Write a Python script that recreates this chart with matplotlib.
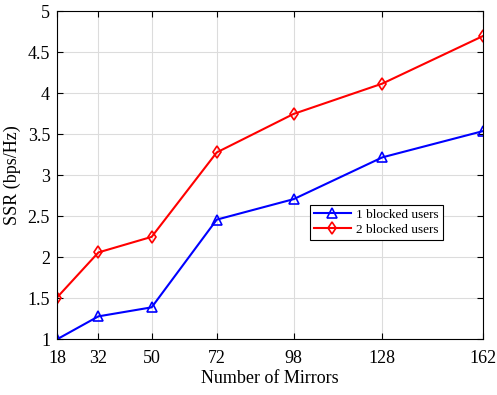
import matplotlib
matplotlib.use("Agg")
import matplotlib.pyplot as plt

mirrors = [18, 32, 50, 72, 98, 128, 162]
ssr_1_blocked = [1.00, 1.28, 1.39, 2.46, 2.71, 3.22, 3.54]
ssr_2_blocked = [1.51, 2.06, 2.25, 3.28, 3.75, 4.12, 4.70]
yticks = [1, 1.5, 2, 2.5, 3, 3.5, 4, 4.5, 5]
ytick_labels = ["1", "1.5", "2", "2.5", "3", "3.5", "4", "4.5", "5"]

plt.rcParams["font.family"] = ["Liberation Serif", "DejaVu Serif"]

fig = plt.figure(figsize=(4.97, 3.95), dpi=100)
ax = fig.add_axes([0.1147, 0.141, 0.857, 0.830])

ax.plot(mirrors, ssr_1_blocked, color="blue", lw=1.5, marker="^", ms=6.5,
        mfc="none", mec="blue", mew=1.2, label="1 blocked users")
ax.plot(mirrors, ssr_2_blocked, color="red", lw=1.5, marker="d", ms=6.5,
        mfc="none", mec="red", mew=1.2, label="2 blocked users")

ax.set_xlim(18, 162)
ax.set_ylim(1, 5)
ax.set_xticks(mirrors)
ax.set_xticklabels([str(m) for m in mirrors])
ax.set_yticks(yticks)
ax.set_yticklabels(ytick_labels)
ax.tick_params(direction="in", top=True, right=True, labelsize=13, length=4, width=0.8)
ax.tick_params(axis="x", pad=8)
ax.tick_params(axis="y", pad=5)
ax.grid(True, color="#dcdcdc", lw=0.8)
ax.set_axisbelow(True)
for s in ax.spines.values():
    s.set_linewidth(0.8)

ax.set_xlabel("Number of Mirrors", fontsize=13, labelpad=2)
ax.set_ylabel("SSR (bps/Hz)", fontsize=13, labelpad=5)

leg = ax.legend(loc="upper left", bbox_to_anchor=(0.594, 0.41), fontsize=9.5,
                frameon=True, fancybox=False, edgecolor="black", framealpha=1,
                borderpad=0.3, handlelength=2.8, handletextpad=0.4, labelspacing=0.2,
                borderaxespad=0)
leg.get_frame().set_linewidth(0.8)

fig.savefig("out.png", dpi=100)
